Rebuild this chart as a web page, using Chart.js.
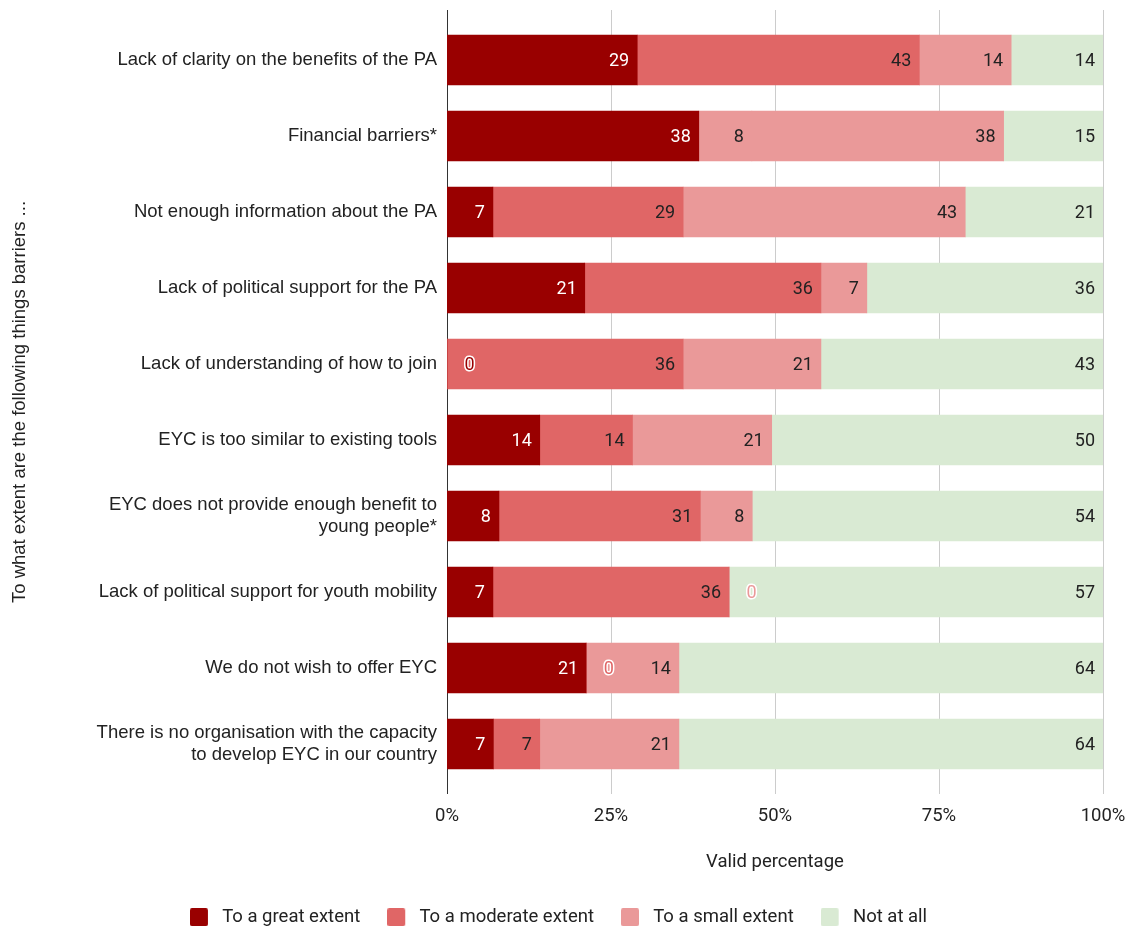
<!DOCTYPE html>
<html>
<head>
<meta charset="utf-8">
<title>Barriers to joining</title>
<script src="https://cdn.jsdelivr.net/npm/chart.js@4"></script>
<style>
  html, body { margin: 0; padding: 0; background: #ffffff; }
  #wrap { width: 1134px; height: 929px; position: relative; }
</style>
</head>
<body>
<div id="wrap"><canvas id="chart"></canvas></div>
<script>
// Survey answers (valid percentages, rounded as reported)
const categories = [
  'Lack of clarity on the benefits of the PA',
  'Financial barriers*',
  'Not enough information about the PA',
  'Lack of political support for the PA',
  'Lack of understanding of how to join',
  'EYC is too similar to existing tools',
  ['EYC does not provide enough benefit to', 'young people*'],
  'Lack of political support for youth mobility',
  'We do not wish to offer EYC',
  ['There is no organisation with the capacity', 'to develop EYC in our country']
];
const seriesNames = ['To a great extent', 'To a moderate extent', 'To a small extent', 'Not at all'];
const greatExtent    = [29, 38,  7, 21,  0, 14,  8,  7, 21,  7];
const moderateExtent = [43,  8, 29, 36, 36, 14, 31, 36,  0,  7];
const smallExtent    = [14, 38, 43,  7, 21, 21,  8,  0, 14, 21];
const notAtAll       = [14, 15, 21, 36, 43, 50, 54, 57, 64, 64];
const xTicks = [0, 25, 50, 75, 100];

const seriesValues = [greatExtent, moderateExtent, smallExtent, notAtAll];
const seriesColors = ['#990000', '#e06666', '#ea9999', '#d9ead3'];
const labelColors  = ['#ffffff', '#222222', '#222222', '#222222'];

const ARIAL = '"Liberation Sans", Arial, sans-serif';
const FONT_SIZE = 18.5;

// Each bar is a 100% stack: segment length is the answer's share of its row total
const rowTotals = categories.map((_, j) => seriesValues.reduce((s, arr) => s + arr[j], 0));
const shares = seriesValues.map(arr => arr.map((v, j) => v / rowTotals[j] * 100));

// The "Financial barriers" row shows its moderate share in the lighter shade
const moderateFill = categories.map((c, j) => j === 1 ? seriesColors[2] : seriesColors[1]);

const datasets = seriesNames.map((name, i) => ({
  label: name,
  data: shares[i],
  backgroundColor: i === 1 ? moderateFill : seriesColors[i],
  borderWidth: 0,
  barThickness: 50
}));

// Square legend swatch with some room to its right
function swatch(color) {
  const c = document.createElement('canvas');
  c.width = 23; c.height = 18;
  const g = c.getContext('2d');
  g.fillStyle = color;
  g.beginPath();
  g.roundRect(0, 0, 18, 18, 2);
  g.fill();
  return c;
}
const swatches = seriesColors.map(swatch);

// Vertical grid lines run a little beyond the plot area
const gridPlugin = {
  id: 'extendedGrid',
  afterLayout(chart) {
    // nudge the legend row slightly to the right
    chart.legend.left += 7;
    chart.legend.right += 7;
  },
  beforeDatasetsDraw(chart) {
    const { ctx, chartArea, scales: { x } } = chart;
    ctx.save();
    ctx.lineWidth = 1;
    xTicks.forEach(v => {
      const px = Math.round(x.getPixelForValue(v)) + 0.5;
      ctx.strokeStyle = v === 0 ? '#333333' : '#cccccc';
      ctx.beginPath();
      ctx.moveTo(px, chartArea.top - 12);
      ctx.lineTo(px, chartArea.bottom + 12);
      ctx.stroke();
    });
    ctx.restore();
  }
};

// Value labels at the inner end of each segment; zero answers sit just past the end
const valueLabelPlugin = {
  id: 'valueLabels',
  afterDatasetsDraw(chart) {
    const { ctx } = chart;
    ctx.save();
    ctx.font = '18px Roboto';
    ctx.textBaseline = 'middle';
    seriesValues.forEach((arr, i) => {
      const meta = chart.getDatasetMeta(i);
      meta.data.forEach((bar, j) => {
        const v = arr[j];
        const text = String(v);
        if (v === 0) {
          ctx.textAlign = 'left';
          ctx.lineJoin = 'round';
          ctx.lineWidth = 3;
          ctx.strokeStyle = '#ffffff';
          ctx.strokeText(text, bar.x + 17.5, bar.y + 1);
          ctx.fillStyle = seriesColors[i];
          ctx.fillText(text, bar.x + 17.5, bar.y + 1);
        } else {
          ctx.textAlign = 'right';
          ctx.fillStyle = labelColors[i];
          ctx.fillText(text, bar.x - 8, bar.y + 1);
        }
      });
    });
    ctx.restore();
  }
};

new Chart(document.getElementById('chart'), {
  type: 'bar',
  data: { labels: categories, datasets },
  options: {
    indexAxis: 'y',
    responsive: true,
    maintainAspectRatio: false,
    animation: false,
    layout: { padding: { top: 22, right: 31, bottom: 0, left: 0 } },
    scales: {
      x: {
        stacked: true,
        min: 0,
        max: 100,
        afterBuildTicks(scale) { scale.ticks = xTicks.map(v => ({ value: v })); },
        afterFit(scale) {
          scale.height = 99;
          scale.paddingLeft = 0;
          scale.paddingRight = 0;
        },
        grid: { display: false, drawTicks: false },
        border: { display: false },
        ticks: {
          padding: 23,
          color: '#222222',
          font: { family: 'Roboto', size: FONT_SIZE },
          callback: v => v + '%'
        },
        title: {
          display: true,
          text: 'Valid percentage',
          color: '#222222',
          font: { family: 'Roboto', size: FONT_SIZE },
          padding: { top: 0, bottom: 8 }
        }
      },
      y: {
        stacked: true,
        afterFit(scale) {
          scale.width = 447;
          scale.paddingTop = 0;
          scale.paddingBottom = 0;
        },
        grid: { display: false, drawTicks: false },
        border: { display: false },
        ticks: {
          padding: 10,
          color: '#222222',
          font: { family: ARIAL, size: FONT_SIZE, lineHeight: 1.2 }
        },
        title: {
          display: true,
          text: 'To what extent are the following things barriers ...',
          color: '#222222',
          font: { family: ARIAL, size: FONT_SIZE },
          padding: { top: 9, bottom: 0 }
        }
      }
    },
    plugins: {
      tooltip: { enabled: false },
      legend: {
        position: 'bottom',
        maxHeight: 48,
        labels: {
          usePointStyle: true,
          pointStyleWidth: 23,
          padding: 27,
          color: '#222222',
          font: { family: 'Roboto', size: FONT_SIZE },
          generateLabels(chart) {
            return chart.data.datasets.map((ds, i) => ({
              text: ds.label,
              pointStyle: swatches[i],
              fillStyle: seriesColors[i],
              strokeStyle: seriesColors[i],
              lineWidth: 0,
              fontColor: '#222222',
              hidden: false,
              datasetIndex: i
            }));
          }
        }
      }
    }
  },
  plugins: [gridPlugin, valueLabelPlugin]
});
</script>
</body>
</html>
